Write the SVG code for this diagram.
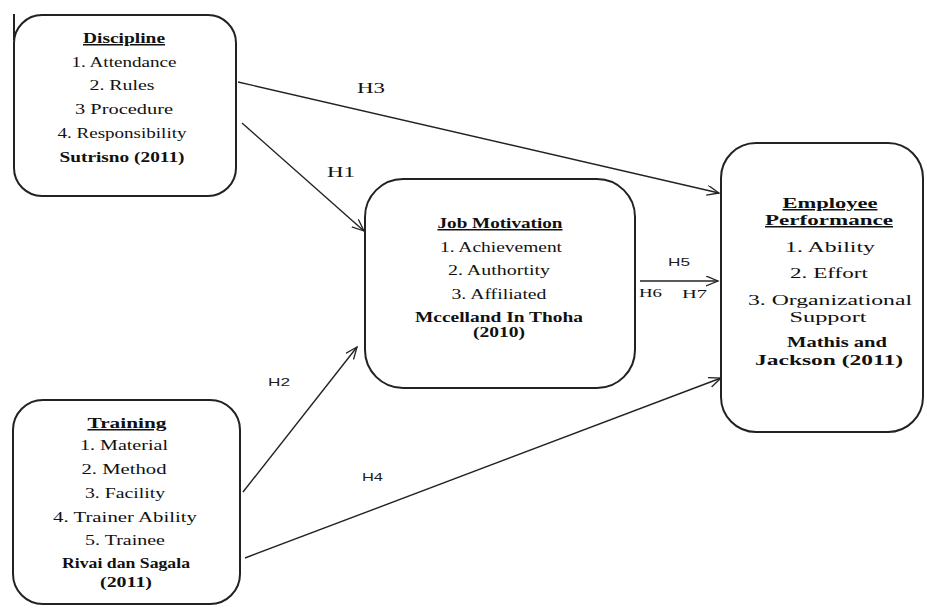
<svg xmlns="http://www.w3.org/2000/svg" width="927" height="608" viewBox="0 0 927 608">
  <defs>
    <marker id="open-arrow" markerUnits="userSpaceOnUse" markerWidth="14" markerHeight="12" refX="12" refY="5" orient="auto">
      <path d="M0,0 L12,5 L0,10" fill="none" stroke="#222" stroke-width="1.3"/>
    </marker>
    <style>
      .box { fill: #fff; stroke: #222; stroke-width: 2; }
      .t { font-family: "Liberation Serif", "Times New Roman", serif; font-size: 15px; fill: #111; text-anchor: middle; }
      .b { font-weight: bold; }
      .u { text-decoration: underline; }
      .edge { stroke: #222; stroke-width: 1.4; fill: none; marker-end: url(#open-arrow); }
      .lbl { font-family: "Liberation Serif", "Times New Roman", serif; font-size: 15px; fill: #111; }
      .lbls { font-family: "Liberation Sans", Arial, sans-serif; font-size: 11px; fill: #222; }
    </style>
  </defs>
  <rect width="927" height="608" fill="#fff"/>

  <!-- connectors -->
  <g id="connectors">
    <line class="edge" x1="238" y1="82" x2="719" y2="193"/>
    <line class="edge" x1="242" y1="123" x2="364" y2="231"/>
    <line class="edge" x1="243" y1="492" x2="357" y2="347"/>
    <line class="edge" x1="245" y1="558" x2="721" y2="378"/>
    <line class="edge" x1="640" y1="281" x2="718" y2="281"/>
    <text class="lbl" x="357" y="93" textLength="28" lengthAdjust="spacingAndGlyphs">H3</text>
    <text class="lbl" x="327" y="177" textLength="28" lengthAdjust="spacingAndGlyphs">H1</text>
    <text class="lbls" x="268" y="386" textLength="22" lengthAdjust="spacingAndGlyphs">H2</text>
    <text class="lbls" x="362" y="481" textLength="21" lengthAdjust="spacingAndGlyphs">H4</text>
    <text class="lbls" x="668" y="266" textLength="22" lengthAdjust="spacingAndGlyphs">H5</text>
    <text class="lbl" x="639" y="297" style="font-size:12px" textLength="23" lengthAdjust="spacingAndGlyphs">H6</text>
    <text class="lbl" x="682" y="298" style="font-size:12px" textLength="25" lengthAdjust="spacingAndGlyphs">H7</text>
  </g>

  <!-- Discipline -->
  <g id="discipline">
    <rect class="box" x="14" y="15" width="222" height="181" rx="28" ry="28"/>
    <line x1="14" y1="14" x2="14" y2="40" stroke="#222" stroke-width="2"/>
    <text class="t b u" x="124" y="43" textLength="82" lengthAdjust="spacingAndGlyphs">Discipline</text>
    <text class="t" x="124" y="67" textLength="105" lengthAdjust="spacingAndGlyphs">1. Attendance</text>
    <text class="t" x="122" y="90" textLength="65" lengthAdjust="spacingAndGlyphs">2. Rules</text>
    <text class="t" x="124" y="114" textLength="98" lengthAdjust="spacingAndGlyphs">3  Procedure</text>
    <text class="t" x="122" y="138" textLength="129" lengthAdjust="spacingAndGlyphs">4. Responsibility</text>
    <text class="t b" x="122" y="162" textLength="125" lengthAdjust="spacingAndGlyphs">Sutrisno (2011)</text>
  </g>

  <!-- Training -->
  <g id="training">
    <rect class="box" x="13" y="400" width="227" height="204" rx="30" ry="30"/>
    <text class="t b u" x="127" y="428" textLength="79" lengthAdjust="spacingAndGlyphs">Training</text>
    <text class="t" x="124" y="450" textLength="88" lengthAdjust="spacingAndGlyphs">1. Material</text>
    <text class="t" x="124" y="474" textLength="85" lengthAdjust="spacingAndGlyphs">2. Method</text>
    <text class="t" x="125" y="498" textLength="80" lengthAdjust="spacingAndGlyphs">3. Facility</text>
    <text class="t" x="125" y="522" textLength="144" lengthAdjust="spacingAndGlyphs">4. Trainer Ability</text>
    <text class="t" x="125" y="545" textLength="80" lengthAdjust="spacingAndGlyphs">5. Trainee</text>
    <text class="t b" x="126" y="568" textLength="128" lengthAdjust="spacingAndGlyphs">Rivai dan Sagala</text>
    <text class="t b" x="126" y="587" textLength="52" lengthAdjust="spacingAndGlyphs">(2011)</text>
  </g>

  <!-- Job Motivation -->
  <g id="job-motivation">
    <rect class="box" x="365" y="179" width="270" height="209" rx="38" ry="38"/>
    <text class="t b u" x="500" y="228" textLength="125" lengthAdjust="spacingAndGlyphs">Job Motivation</text>
    <text class="t" x="501" y="252" textLength="122" lengthAdjust="spacingAndGlyphs">1. Achievement</text>
    <text class="t" x="499" y="275" textLength="102" lengthAdjust="spacingAndGlyphs">2. Authortity</text>
    <text class="t" x="499" y="299" textLength="95" lengthAdjust="spacingAndGlyphs">3. Affiliated</text>
    <text class="t b" x="499" y="322" textLength="168" lengthAdjust="spacingAndGlyphs">Mccelland In Thoha</text>
    <text class="t b" x="499" y="337" textLength="52" lengthAdjust="spacingAndGlyphs">(2010)</text>
  </g>

  <!-- Employee Performance -->
  <g id="employee-performance">
    <rect class="box" x="721" y="143" width="202" height="289" rx="35" ry="35"/>
    <text class="t b u" x="830" y="208" textLength="95" lengthAdjust="spacingAndGlyphs">Employee</text>
    <text class="t b u" x="829" y="225" textLength="128" lengthAdjust="spacingAndGlyphs">Performance</text>
    <text class="t" x="830" y="252" textLength="90" lengthAdjust="spacingAndGlyphs">1. Ability</text>
    <text class="t" x="829" y="278" textLength="78" lengthAdjust="spacingAndGlyphs">2. Effort</text>
    <text class="t" x="830" y="305" textLength="164" lengthAdjust="spacingAndGlyphs">3. Organizational</text>
    <text class="t" x="828" y="322" textLength="77" lengthAdjust="spacingAndGlyphs">Support</text>
    <text class="t b" x="837" y="347" textLength="100" lengthAdjust="spacingAndGlyphs">Mathis and</text>
    <text class="t b" x="829" y="365" textLength="148" lengthAdjust="spacingAndGlyphs">Jackson (2011)</text>
  </g>
</svg>
